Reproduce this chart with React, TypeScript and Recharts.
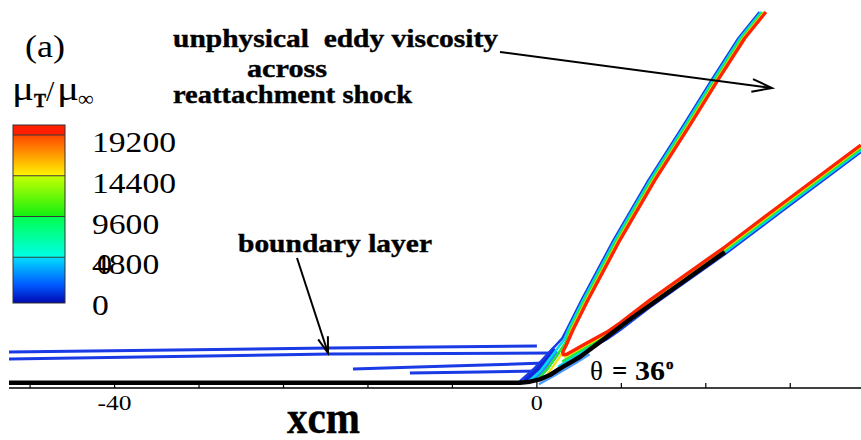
import React from "react";
import { LineChart, Line, XAxis, YAxis } from "recharts";

type Pt = { x: number; y: number };

const SERIF = '"Liberation Serif", "Times New Roman", serif';

// axis ticks (cm): labelled every 40, minor every 8
const xTicks = [-48, -40, -32, -24, -16, -8, 0, 8, 16, 24];

// contour levels shown on the colour bar
const cbLevels = [0, 4800, 9600, 14400, 19200];

// wall / surface streamline: flat plate, then the 36 deg ramp
const wall: Pt[] = [
  { x: -50, y: 0 }, { x: -1.61, y: 0 }, { x: -0.66, y: 0.1 }, { x: 0.28, y: 0.32 },
  { x: 1.23, y: 0.73 }, { x: 2.46, y: 1.5 }, { x: 4.07, y: 2.43 }, { x: 6.5, y: 4.25 },
  { x: 9.0, y: 6.13 }, { x: 13.54, y: 9.35 }, { x: 17.8, y: 12.38 },
];

// incoming boundary layer contours (lowest level)
const bl1: Pt[] = [{ x: -50, y: 2.91 }, { x: -19.6, y: 3.29 }, { x: 0, y: 3.48 }];
const bl2: Pt[] = [{ x: -50, y: 2.24 }, { x: -19.6, y: 2.72 }, { x: 1.52, y: 2.81 }];
const bl3: Pt[] = [{ x: -17.42, y: 1.3 }, { x: -8.24, y: 1.58 }, { x: 0.76, y: 1.86 }];
const bl4: Pt[] = [{ x: -12.03, y: 0.92 }, { x: -5.4, y: 1.01 }, { x: 0.28, y: 1.11 }];
const blUnder: Pt[] = [{ x: 0.2, y: -0.15 }, { x: 1.8, y: 0.75 }, { x: 3.8, y: 1.95 }, { x: 5.0, y: 2.7 }];

// low-level fill in the corner between the wall and the shock foot
const fanDeep: Pt[] = [{ x: -1.1, y: 0.12 }, { x: 0.4, y: 1.7 }, { x: 1.7, y: 3.2 }];
const fanLight: Pt[] = [{ x: -0.2, y: 0.2 }, { x: 0.9, y: 1.4 }, { x: 2.0, y: 2.9 }];

// reattachment shock, outer levels running down into the corner fan
const shockBlue: Pt[] = [
  { x: 21.09, y: 35.1 }, { x: 19.1, y: 32.64 }, { x: 16.54, y: 28.66 }, { x: 13.89, y: 24.4 },
  { x: 10.57, y: 19.19 }, { x: 7.26, y: 13.51 }, { x: 4.23, y: 7.83 }, { x: 2.81, y: 4.99 },
  { x: 2.4, y: 4.2 }, { x: 1.1, y: 2.8 }, { x: -0.3, y: 1.3 }, { x: -1.7, y: 0.05 },
];
const shockCyan: Pt[] = [
  { x: 21.24, y: 35.1 }, { x: 19.25, y: 32.64 }, { x: 16.69, y: 28.66 }, { x: 14.04, y: 24.4 },
  { x: 10.72, y: 19.19 }, { x: 7.41, y: 13.51 }, { x: 4.38, y: 7.83 }, { x: 2.96, y: 4.99 },
  { x: 2.6, y: 4.1 }, { x: 1.6, y: 2.8 }, { x: 0.4, y: 1.2 }, { x: -0.8, y: 0.1 },
];
const shockGreen: Pt[] = [
  { x: 21.39, y: 35.1 }, { x: 19.4, y: 32.64 }, { x: 16.84, y: 28.66 }, { x: 14.19, y: 24.4 },
  { x: 10.87, y: 19.19 }, { x: 7.56, y: 13.51 }, { x: 4.53, y: 7.83 }, { x: 3.11, y: 4.99 },
  { x: 2.7, y: 3.8 }, { x: 1.9, y: 2.6 }, { x: 1.0, y: 1.3 }, { x: 0.0, y: 0.25 },
];
const shockYellow: Pt[] = [
  { x: 21.54, y: 35.1 }, { x: 19.55, y: 32.64 }, { x: 16.99, y: 28.66 }, { x: 14.34, y: 24.4 },
  { x: 11.02, y: 19.19 }, { x: 7.71, y: 13.51 }, { x: 4.68, y: 7.83 }, { x: 3.26, y: 4.99 },
  { x: 2.7, y: 3.4 }, { x: 2.2, y: 2.5 }, { x: 1.5, y: 1.5 }, { x: 0.8, y: 0.55 },
];

// peak level: V shape from the shock down to the apex and back up along the ramp
const peakRed: Pt[] = [
  { x: 21.69, y: 35.1 }, { x: 19.7, y: 32.64 }, { x: 17.14, y: 28.66 }, { x: 14.49, y: 24.4 },
  { x: 11.17, y: 19.19 }, { x: 7.86, y: 13.51 }, { x: 4.83, y: 7.83 }, { x: 3.41, y: 4.99 },
  { x: 2.75, y: 3.5 }, { x: 2.45, y: 2.9 }, { x: 2.5, y: 2.65 }, { x: 2.84, y: 2.7 },
  { x: 4.73, y: 3.76 }, { x: 6.63, y: 4.8 }, { x: 7.86, y: 5.65 }, { x: 10.7, y: 7.83 },
  { x: 17.8, y: 12.85 }, { x: 23.96, y: 17.49 }, { x: 30.68, y: 22.51 },
];

// outer levels of the band that follows the ramp
const rampYellow: Pt[] = [
  { x: 2.6, y: 2.4 }, { x: 4.73, y: 3.59 }, { x: 6.63, y: 4.63 }, { x: 7.86, y: 5.48 },
  { x: 10.7, y: 7.66 }, { x: 17.8, y: 12.68 }, { x: 23.96, y: 17.32 }, { x: 30.68, y: 22.34 },
];
const rampGreen: Pt[] = [
  { x: 2.4, y: 2.0 }, { x: 4.73, y: 3.42 }, { x: 6.63, y: 4.46 }, { x: 7.86, y: 5.31 },
  { x: 10.7, y: 7.49 }, { x: 17.8, y: 12.51 }, { x: 23.96, y: 17.15 }, { x: 30.68, y: 22.17 },
];
const rampCyan: Pt[] = [
  { x: 2.0, y: 1.5 }, { x: 4.73, y: 3.25 }, { x: 6.63, y: 4.29 }, { x: 7.86, y: 5.14 },
  { x: 10.7, y: 7.32 }, { x: 17.8, y: 12.34 }, { x: 23.96, y: 16.98 }, { x: 30.68, y: 22.0 },
];
const rampBlue: Pt[] = [
  { x: 1.5, y: 1.0 }, { x: 4.73, y: 3.08 }, { x: 6.63, y: 4.12 }, { x: 7.86, y: 4.97 },
  { x: 10.7, y: 7.15 }, { x: 17.8, y: 12.17 }, { x: 23.96, y: 16.81 }, { x: 30.68, y: 21.83 },
];

const BLUE = "#1a3ae6";
const CYAN = "#00d8f0";
const GREEN = "#22e838";
const YELLOW = "#f2e000";
const RED = "#ff2400";

const AxisTick = (props: any) => {
  const { x, y, payload } = props;
  const major = payload.value % 40 === 0;
  return (
    <g>
      <line x1={x} x2={x} y1={y} y2={y - (major ? 7 : 5)} stroke="#000" strokeWidth={1.2} />
      {major && (
        <text x={x} y={y + 22} textAnchor="middle" fontSize={22} fontFamily={SERIF} fill="#000"
          textLength={payload.value < 0 ? 34 : 12} lengthAdjust="spacingAndGlyphs">
          {payload.value}
        </text>
      )}
    </g>
  );
};

const Arrow = ({ from, to, head }: { from: [number, number]; to: [number, number]; head: number }) => {
  const dx = to[0] - from[0];
  const dy = to[1] - from[1];
  const len = Math.hypot(dx, dy);
  const ux = dx / len;
  const uy = dy / len;
  const bx = to[0] - ux * head;
  const by = to[1] - uy * head;
  const w = head * 0.32;
  return (
    <g stroke="#000" strokeWidth={2} fill="none">
      <line x1={from[0]} y1={from[1]} x2={to[0]} y2={to[1]} />
      <polyline points={`${bx - uy * w},${by + ux * w} ${to[0]},${to[1]} ${bx + uy * w},${by - ux * w}`} />
    </g>
  );
};

// colour bar geometry
const CB_X = 13;
const CB_W = 52;
const CB_TOP = 125;
const CB_BOTTOM = 303;
const labelY = (v: number) => 152 + ((19200 - v) * 40.75) / 4800;
const dividerY = (v: number) => labelY(v) - 17;

const ColorBar = () => {
  const off = (v: number) => (dividerY(v) - CB_TOP) / (CB_BOTTOM - CB_TOP);
  const e = 0.003;
  return (
    <g>
      <defs>
        <linearGradient id="cbGrad" x1="0" y1="0" x2="0" y2="1">
          <stop offset={0} stopColor="#ff1e00" />
          <stop offset={off(19200)} stopColor="#ff2000" />
          <stop offset={off(19200) + e} stopColor="#ff4800" />
          <stop offset={off(14400)} stopColor="#fff400" />
          <stop offset={off(14400) + e} stopColor="#c4ff00" />
          <stop offset={off(9600)} stopColor="#10f010" />
          <stop offset={off(9600) + e} stopColor="#00ff50" />
          <stop offset={off(4800)} stopColor="#00ffe8" />
          <stop offset={off(4800) + e} stopColor="#00dcff" />
          <stop offset={0.9} stopColor="#0058ff" />
          <stop offset={1} stopColor="#0008b0" />
        </linearGradient>
      </defs>
      <rect x={CB_X} y={CB_TOP} width={CB_W} height={CB_BOTTOM - CB_TOP} fill="url(#cbGrad)" stroke="#333" strokeWidth={1} />
      {cbLevels.filter((v) => v > 0).map((v) => (
        <line key={v} x1={CB_X} x2={CB_X + CB_W} y1={dividerY(v)} y2={dividerY(v)} stroke="#3a3a3a" strokeWidth={1.2} />
      ))}
      {cbLevels.map((v) => (
        <text key={`t${v}`} x={92} y={labelY(v)} fontSize={30} fontFamily={SERIF} fill="#000"
          textLength={String(v).length * 16.8} lengthAdjust="spacingAndGlyphs">
          {v}
        </text>
      ))}
      <text x={97} y={labelY(4800)} fontSize={30} fontFamily={SERIF} fill="#000">0</text>
    </g>
  );
};

const lineProps = { type: "linear" as const, dataKey: "y", dot: false, isAnimationActive: false, strokeLinejoin: "round" as const };

const App = () => {
  const bold = { fontFamily: SERIF, fontWeight: 700, fill: "#000", stroke: "#000", strokeWidth: 0.4 } as const;
  return (
    <div style={{ position: "absolute", left: 0, top: 0, width: 861, height: 440, background: "#fff" }}>
      <LineChart width={861} height={440} margin={{ top: 0, right: 0, left: 9, bottom: 0 }}>
        <XAxis
          type="number"
          dataKey="x"
          domain={[-50, 30.7]}
          ticks={xTicks}
          allowDataOverflow
          height={52}
          tickSize={0}
          tickMargin={0}
          tickLine={false}
          axisLine={{ stroke: "#000", strokeWidth: 1.5 }}
          tick={<AxisTick />}
          interval={0}
        />
        <YAxis hide type="number" dataKey="y" domain={[-0.5, 36.24]} allowDataOverflow />
        {[bl1, bl2, bl3, bl4].map((d, i) => (
          <Line key={`bl${i}`} data={d} {...lineProps} stroke={BLUE} strokeWidth={3} />
        ))}
        <Line data={blUnder} {...lineProps} stroke="#4a9cff" strokeWidth={2.4} />
        <Line data={fanDeep} {...lineProps} stroke="#1028d8" strokeWidth={6} />
        <Line data={fanLight} {...lineProps} stroke="#2c86ff" strokeWidth={5} />
        <Line data={rampBlue} {...lineProps} stroke={BLUE} strokeWidth={2.4} />
        <Line data={rampCyan} {...lineProps} stroke={CYAN} strokeWidth={2.4} />
        <Line data={rampGreen} {...lineProps} stroke={GREEN} strokeWidth={2.4} />
        <Line data={rampYellow} {...lineProps} stroke={YELLOW} strokeWidth={2.2} />
        <Line data={shockBlue} {...lineProps} stroke={BLUE} strokeWidth={2.4} />
        <Line data={shockCyan} {...lineProps} stroke={CYAN} strokeWidth={2.4} />
        <Line data={shockGreen} {...lineProps} stroke={GREEN} strokeWidth={2.4} />
        <Line data={shockYellow} {...lineProps} stroke={YELLOW} strokeWidth={2.2} />
        <Line data={peakRed} {...lineProps} stroke={RED} strokeWidth={3.4} />
        <Line data={wall} {...lineProps} stroke="#000" strokeWidth={4.5} />
      </LineChart>

      <svg width={861} height={440} style={{ position: "absolute", left: 0, top: 0, pointerEvents: "none" }}>
        <text x={25} y={57} fontSize={32} fontFamily={SERIF} textLength={40} lengthAdjust="spacingAndGlyphs">(a)</text>
        <text x={12} y={100} fontSize={34} fontFamily={SERIF} textLength={22} lengthAdjust="spacingAndGlyphs">μ</text>
        <text x={34} y={107} fontSize={18} {...bold}>T</text>
        <text x={46} y={101} fontSize={30} fontFamily={SERIF}>/</text>
        <text x={57} y={100} fontSize={34} fontFamily={SERIF} textLength={22} lengthAdjust="spacingAndGlyphs">μ</text>
        <text x={78} y={106} fontSize={22} fontFamily={SERIF}>∞</text>

        <ColorBar />

        <text x={173} y={47} fontSize={25} {...bold} style={{ whiteSpace: "pre" }}
          textLength={325} lengthAdjust="spacingAndGlyphs">unphysical  eddy viscosity</text>
        <text x={247} y={77} fontSize={25} {...bold} textLength={80} lengthAdjust="spacingAndGlyphs">across</text>
        <text x={173} y={103} fontSize={25} {...bold} textLength={239} lengthAdjust="spacingAndGlyphs">reattachment shock</text>
        <Arrow from={[500, 52]} to={[772, 88]} head={20} />

        <text x={238} y={252} fontSize={25} {...bold} textLength={194} lengthAdjust="spacingAndGlyphs">boundary layer</text>
        <Arrow from={[297, 258]} to={[328, 353]} head={16} />

        <text y={380} fontSize={27} fontFamily={SERIF} fill="#000">
          <tspan x={590}>θ</tspan>
          <tspan x={612} fontWeight={700}>=</tspan>
          <tspan x={635} fontWeight={700} textLength={30} lengthAdjust="spacingAndGlyphs">36</tspan>
        </text>
        <text x={666} y={369} fontSize={15} {...bold}>o</text>

        <text x={287} y={433} fontSize={46} {...bold} textLength={73} lengthAdjust="spacingAndGlyphs">xcm</text>
      </svg>
    </div>
  );
};

export default App;
